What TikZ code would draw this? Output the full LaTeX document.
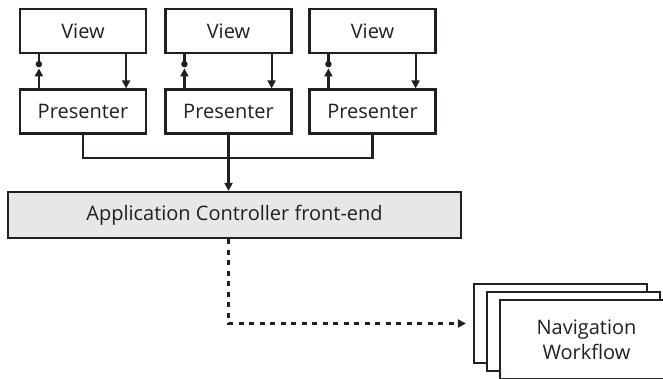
\documentclass[tikz,border=0pt]{standalone}
\usepackage{fontspec}
\setmainfont{Open Sans}
\usetikzlibrary{positioning, arrows.meta, calc}
\definecolor{ink}{HTML}{231F20}
\definecolor{ctrlbg}{HTML}{E6E7E8}
\tikzset{
  blok/.style={draw=ink, line width=2.2pt, fill=white, text=ink,
               minimum width=126pt, minimum height=44pt, inner sep=0pt,
               align=center, font=\fontsize{20}{25}\selectfont},
  page/.style={blok, minimum width=173pt, minimum height=79pt},
  wire/.style={line width=2.2pt, draw=ink},
  flow/.style={-{Triangle[length=8pt, width=8pt]}, line width=2.2pt, draw=ink},
  dflow/.style={flow, dash pattern=on 5pt off 5.5pt},
  knob/.style={circle, fill=ink, inner sep=0pt, minimum size=6.5pt},
}
\begin{document}
\begin{tikzpicture}[x=1pt, y=-1pt]
  \useasboundingbox (0,0) rectangle (663,378);
  % views and presenters
  \node[blok] (v1) at (83,31) {View};
  \node[blok] (v2) at (228.5,31) {View};
  \node[blok] (v3) at (372.5,31) {View};
  \node[blok] (p1) at (83,111.5) {Presenter};
  \node[blok] (p2) at (228.5,111.5) {Presenter};
  \node[blok] (p3) at (372.5,111.5) {Presenter};
  \foreach \i in {1,2,3} {
    \draw[flow] ($(p\i.north west)+(20,0)$) -- ++(0,-20);
    \draw[wire] ($(v\i.south west)+(20,0)$) -- ++(0,10) node[knob] {};
    \draw[flow] ($(v\i.south east)+(-21,0)$) -- ($(p\i.north east)+(-21,0)$);
  }
  % controller
  \node[blok, fill=ctrlbg, minimum width=453pt, minimum height=46pt]
    (ctrl) at (234.5,215) {Application Controller front-end};
  \draw[wire] (p1.south) -- ++(0,23) -| (p3.south);
  \draw[flow] (p2.south) -- (p2.south |- ctrl.north);
  % workflow pages
  \node[page] (back) at (560.5,323.5) {};
  \node[page] (mid) at (573.5,331.5) {};
  \node[page] (front) at (586.5,339.5) {Navigation\\Workflow};
  \draw[dflow, shorten >=7pt] (ctrl.south -| p2.south) |- (back.west);
\end{tikzpicture}
\end{document}
